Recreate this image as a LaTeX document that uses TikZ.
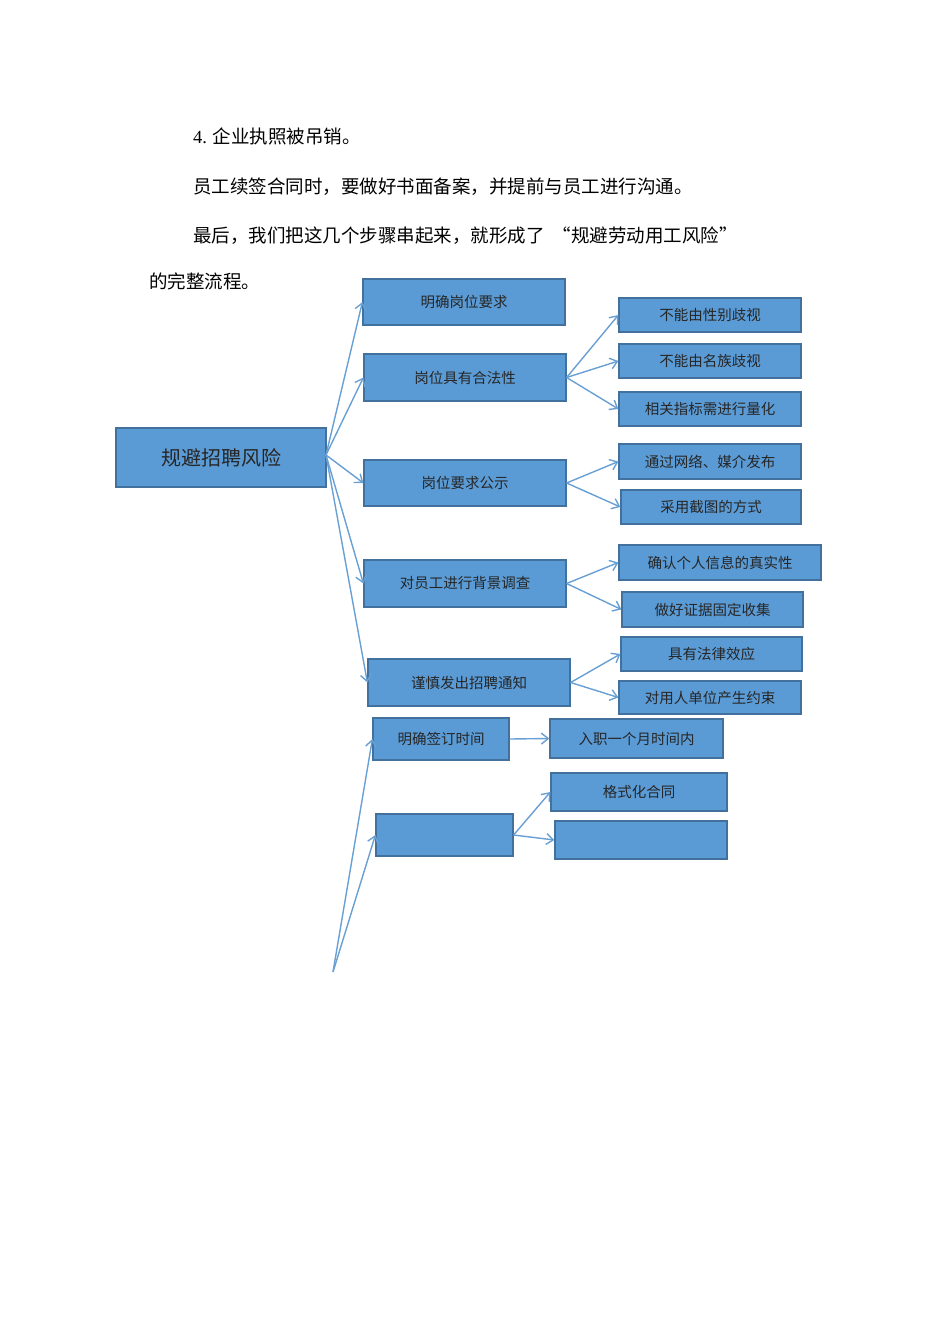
\documentclass[tikz,border=0pt]{standalone}
\usepackage{fontspec}
\setmainfont{Liberation Serif}
\newfontfamily\cjk{Noto Sans CJK SC}
\usetikzlibrary{arrows.meta}
\definecolor{bfill}{RGB}{91,155,213}
\definecolor{bdraw}{RGB}{65,113,156}
\definecolor{arr}{RGB}{105,160,212}
\tikzset{
 bx/.style={draw=bdraw,line width=1.2pt,fill=bfill,inner sep=0pt,font=\cjk\fontsize{14.5}{16}\selectfont,text=black!85},
 ar/.style={draw=arr,line width=1.4pt,-{Straight Barb[length=7pt,width=11pt]}},
 para/.style={anchor=base west,inner sep=0pt,font=\cjk\fontsize{18.5}{20}\selectfont}
}
\newcommand\B[6]{\node[bx,minimum width=#4-#2,minimum height=#5-#3] (#1) at ({(#2+#4)/2},{(#3+#5)/2}) {#6};}
\begin{document}
\begin{tikzpicture}[x=1pt,y=-1pt]
\useasboundingbox (0,0) rectangle (950,1344);
\node[para] (p1) at (193,143) {{\rmfamily 4.} 企业执照被吊销。};
\node[para] (p2) at (193,193) {员工续签合同时，要做好书面备案，并提前与员工进行沟通。};
\node[para] (p3) at (193,242) {最后，我们把这几个步骤串起来，就形成了\ \ “规避劳动用工风险”};
\node[para] (p4) at (149,288) {的完整流程。};
\node[bx,minimum width=210,minimum height=59,font=\cjk\fontsize{20}{22}\selectfont] (root) at (221,457.5) {规避招聘风险};
\B{a1}{363}{279}{565}{325}{明确岗位要求}
\B{a2}{364}{354}{566}{401}{岗位具有合法性}
\B{a3}{364}{460}{566}{506}{岗位要求公示}
\B{a4}{364}{560}{566}{607}{对员工进行背景调查}
\B{a5}{368}{659}{570}{706}{谨慎发出招聘通知}
\B{b1}{619}{298}{801}{332}{不能由性别歧视}
\B{b2}{619}{344}{801}{378}{不能由名族歧视}
\B{b3}{619}{392}{801}{426}{相关指标需进行量化}
\B{b4}{619}{444}{801}{479}{通过网络、媒介发布}
\B{b5}{621}{490}{801}{524}{采用截图的方式}
\B{b6}{619}{545}{821}{580}{确认个人信息的真实性}
\B{b7}{622}{592}{803}{627}{做好证据固定收集}
\B{b8}{621}{637}{802}{671}{具有法律效应}
\B{b9}{619}{681}{801}{714}{对用人单位产生约束}
\B{c1}{373}{718}{509}{760}{明确签订时间}
\B{c2}{550}{719}{723}{758}{入职一个月时间内}
\B{c3}{376}{814}{513}{856}{}
\B{c4}{551}{773}{727}{811}{格式化合同}
\B{c5}{555}{821}{727}{859}{}
\coordinate (r) at (326,455);
\coordinate (bot) at (333,972);
\foreach \t in {a1,a2,a3,a4,a5} \draw[ar] (r) -- (\t.west);
\foreach \s/\l in {a2/{b1,b2,b3},a3/{b4,b5},a4/{b6,b7},a5/{b8,b9},c3/{c4,c5}}
  \foreach \t in \l \draw[ar] (\s.east) -- (\t.west);
\draw[ar] (c1.east) -- (c2.west);
\draw[ar] (bot) -- (c1.west);
\draw[ar] (bot) -- (c3.west);
\end{tikzpicture}
\end{document}
